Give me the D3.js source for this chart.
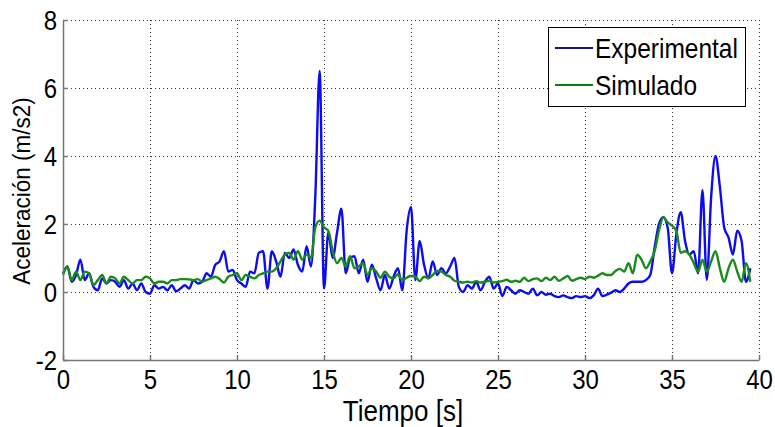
<!DOCTYPE html>
<html>
<head>
<meta charset="utf-8">
<script src="https://cdn.jsdelivr.net/npm/d3@7"></script>
<style>
    body { margin: 0; background: #fff; }
    svg { display: block; font-family: "Liberation Sans", Arial, sans-serif; }
    .tall { transform-box: fill-box; transform-origin: center; transform: scaleY(1.15); }
</style>
</head>
<body>
<div id="chart"></div>
<script>

// sampling step of both series, seconds (first sample at t = 0)
var time_step = 0.25;

// Experimental acceleration (m/s2), one row per second
var experimental = [
    0.55, 0.75, 0.30, 0.50,
    0.95, 0.35, 0.55, 0.15,
    0.05, 0.40, 0.25, 0.35,
    0.30, 0.15, 0.35, 0.10,
    0.25, 0.05, 0.25, 0.00,
    -0.05, 0.20, 0.10, 0.15,
    0.05, 0.20, 0.02, 0.10,
    0.20, 0.10, 0.35, 0.25,
    0.30, 0.55, 0.45, 0.80,
    0.90, 1.20, 0.60, 0.65,
    0.35, 0.25, 0.15, 0.60,
    0.55, 1.15, 1.20, 0.10,
    1.20, 0.90, 0.45, 1.15,
    1.00, 1.25, 0.80, 0.60,
    1.35, 0.75, 2.80, 6.50,
    0.10, 1.75, 1.00, 1.75,
    2.45, 0.55, 1.00, 1.05,
    0.55, 0.95, 0.30, 0.80,
    0.40, 0.05, 0.50, 0.10,
    0.45, 0.70, 0.05, 1.80,
    2.50, 0.35, 1.50, 0.80,
    0.40, 0.90, 0.50, 0.70,
    0.55, 0.75, 1.00, 0.15,
    0.00, 0.20, 0.10, 0.30,
    0.05, 0.30, 0.45, 0.10,
    0.25, -0.12, 0.15, 0.05,
    -0.05, 0.05, 0.00, -0.05,
    0.10, -0.10, 0.00, -0.08,
    -0.05, -0.12, -0.15, -0.10,
    -0.15, -0.18, -0.12, -0.15,
    -0.12, -0.18, -0.10, 0.10,
    -0.12, -0.08, -0.02, 0.05,
    0.00, 0.10, 0.25, 0.30,
    0.30, 0.30, 0.35, 0.50,
    1.30, 2.00, 2.20, 1.90,
    0.55, 1.70, 2.35, 1.50,
    1.10, 1.20, 0.55, 3.00,
    0.35, 2.80, 4.00, 3.10,
    1.90, 1.60, 1.10, 1.80,
    1.50, 0.30, 0.70
];

// Simulado acceleration (m/s2), same sampling
var simulado = [
    0.50, 0.75, 0.35, 0.60,
    0.35, 0.60, 0.55, 0.20,
    0.35, 0.50, 0.25, 0.45,
    0.40, 0.25, 0.45, 0.35,
    0.25, 0.35, 0.35, 0.45,
    0.40, 0.25, 0.30, 0.30,
    0.25, 0.35, 0.35, 0.38,
    0.38, 0.37, 0.35, 0.38,
    0.30, 0.35, 0.40, 0.45,
    0.38, 0.28, 0.45, 0.50,
    0.55, 0.35, 0.50, 0.45,
    0.40, 0.50, 0.55, 0.60,
    0.60, 0.70, 0.90, 1.10,
    1.15, 0.95, 1.20, 0.95,
    1.10, 1.00, 1.90, 2.10,
    1.90, 1.80, 1.20, 0.85,
    1.00, 0.75, 1.05, 0.70,
    0.75, 0.85, 0.50, 0.70,
    0.60, 0.42, 0.60, 0.45,
    0.40, 0.52, 0.35, 0.42,
    0.47, 0.45, 0.32, 0.45,
    0.40, 0.50, 0.62, 0.60,
    0.50, 0.45, 0.33, 0.30,
    0.28, 0.30, 0.28, 0.32,
    0.28, 0.30, 0.33, 0.28,
    0.30, 0.32, 0.36, 0.30,
    0.33, 0.30, 0.42, 0.32,
    0.38, 0.40, 0.32, 0.42,
    0.35, 0.45, 0.33, 0.40,
    0.47, 0.33, 0.38, 0.42,
    0.38, 0.45, 0.42, 0.48,
    0.55, 0.50, 0.50, 0.62,
    0.68, 0.60, 0.85, 0.55,
    1.10, 0.95, 0.70, 0.90,
    1.20, 1.80, 2.20, 2.05,
    1.95, 1.80, 1.15, 1.20,
    1.10, 0.85, 0.60, 0.95,
    0.60, 0.90, 1.20, 0.70,
    0.30, 0.70, 0.95, 0.60,
    0.30, 0.85, 0.30
];

var x_ticks = [0, 5, 10, 15, 20, 25, 30, 35, 40];
var y_ticks = [-2, 0, 2, 4, 6, 8];

var series = [
    {name: 'Experimental', values: experimental, color: '#0c0cf0', key_color: '#12128a'},
    {name: 'Simulado', values: simulado, color: '#1a8a1a', key_color: '#0c7a0c'}
];

var width = 775, height = 427;
var plot = {left: 63, right: 759, top: 20, bottom: 360};

var svg = d3.select('#chart').append('svg')
    .attr('width', width)
    .attr('height', height);

var x = d3.scaleLinear().domain([0, 40]).range([plot.left, plot.right]);
var y = d3.scaleLinear().domain([-2, 8]).range([plot.bottom, plot.top]);

// dotted grid
var grid = svg.append('g')
    .attr('stroke', '#333')
    .attr('stroke-width', 1)
    .attr('stroke-dasharray', '1,3');

grid.selectAll('line.vx')
    .data(x_ticks.slice(1))
    .enter().append('line')
    .attr('x1', function(d) { return Math.round(x(d)) + 0.5; })
    .attr('x2', function(d) { return Math.round(x(d)) + 0.5; })
    .attr('y1', plot.top)
    .attr('y2', plot.bottom);

grid.selectAll('line.hy')
    .data(y_ticks.slice(1))
    .enter().append('line')
    .attr('x1', plot.left)
    .attr('x2', plot.right)
    .attr('y1', function(d) { return Math.round(y(d)) + 0.5; })
    .attr('y2', function(d) { return Math.round(y(d)) + 0.5; });

// curves
var line = d3.line()
    .x(function(d, i) { return x(i * time_step); })
    .y(function(d) { return y(d); })
    .curve(d3.curveMonotoneX);

svg.append('g').selectAll('path')
    .data(series)
    .enter().append('path')
    .attr('d', function(d) { return line(d.values); })
    .attr('fill', 'none')
    .attr('stroke', function(d) { return d.color; })
    .attr('stroke-width', 2.4)
    .attr('stroke-linejoin', 'round');

// axes (left and bottom only, ticks inward)
var plain = function(d) { return String(d); };

var x_axis = d3.axisBottom(x)
    .tickValues(x_ticks)
    .tickFormat(plain)
    .tickSizeInner(-5)
    .tickSizeOuter(0)
    .tickPadding(11);

var y_axis = d3.axisLeft(y)
    .tickValues(y_ticks)
    .tickFormat(plain)
    .tickSizeInner(-5)
    .tickSizeOuter(0)
    .tickPadding(6);

var gx = svg.append('g')
    .attr('transform', 'translate(0,' + plot.bottom + ')')
    .call(x_axis);

var gy = svg.append('g')
    .attr('transform', 'translate(' + plot.left + ',0)')
    .call(y_axis);

[gx, gy].forEach(function(g) {
    g.select('.domain').attr('stroke', '#777').attr('stroke-width', 1.5);
    g.selectAll('.tick line').attr('stroke', '#777').attr('stroke-width', 1.5);
    g.selectAll('.tick text')
        .attr('class', 'tall')
        .attr('fill', '#000')
        .style('font-family', '"Liberation Sans", Arial, sans-serif')
        .style('font-size', '24px');
});
gx.selectAll('.tick text').attr('dy', '0.71em');
gy.selectAll('.tick text').attr('dy', '0.36em');

// axis labels
svg.append('text')
    .attr('class', 'tall')
    .attr('x', 403)
    .attr('y', 420)
    .attr('text-anchor', 'middle')
    .style('font-size', '26px')
    .text('Tiempo [s]');

svg.append('text')
    .attr('transform', 'translate(30,191) rotate(-90) scale(1,1.1)')
    .attr('text-anchor', 'middle')
    .style('font-size', '22.5px')
    .text('Aceleración (m/s2)');

// legend
var legend = svg.append('g')
    .attr('transform', 'translate(548,27)');

legend.append('rect')
    .attr('x', 0.5)
    .attr('y', 0.5)
    .attr('width', 197)
    .attr('height', 79)
    .attr('fill', '#fff')
    .attr('stroke', '#000')
    .attr('stroke-width', 1);

var rows = legend.selectAll('g.row')
    .data(series)
    .enter().append('g')
    .attr('transform', function(d, i) { return 'translate(0,' + (21 + i * 37) + ')'; });

rows.append('line')
    .attr('x1', 7)
    .attr('x2', 45)
    .attr('y1', 0)
    .attr('y2', 0)
    .attr('stroke', function(d) { return d.key_color; })
    .attr('stroke-width', 2);

rows.append('text')
    .attr('class', 'tall')
    .attr('x', 47)
    .attr('dy', '0.36em')
    .style('font-size', '24.5px')
    .text(function(d) { return d.name; });

</script>
</body>
</html>
